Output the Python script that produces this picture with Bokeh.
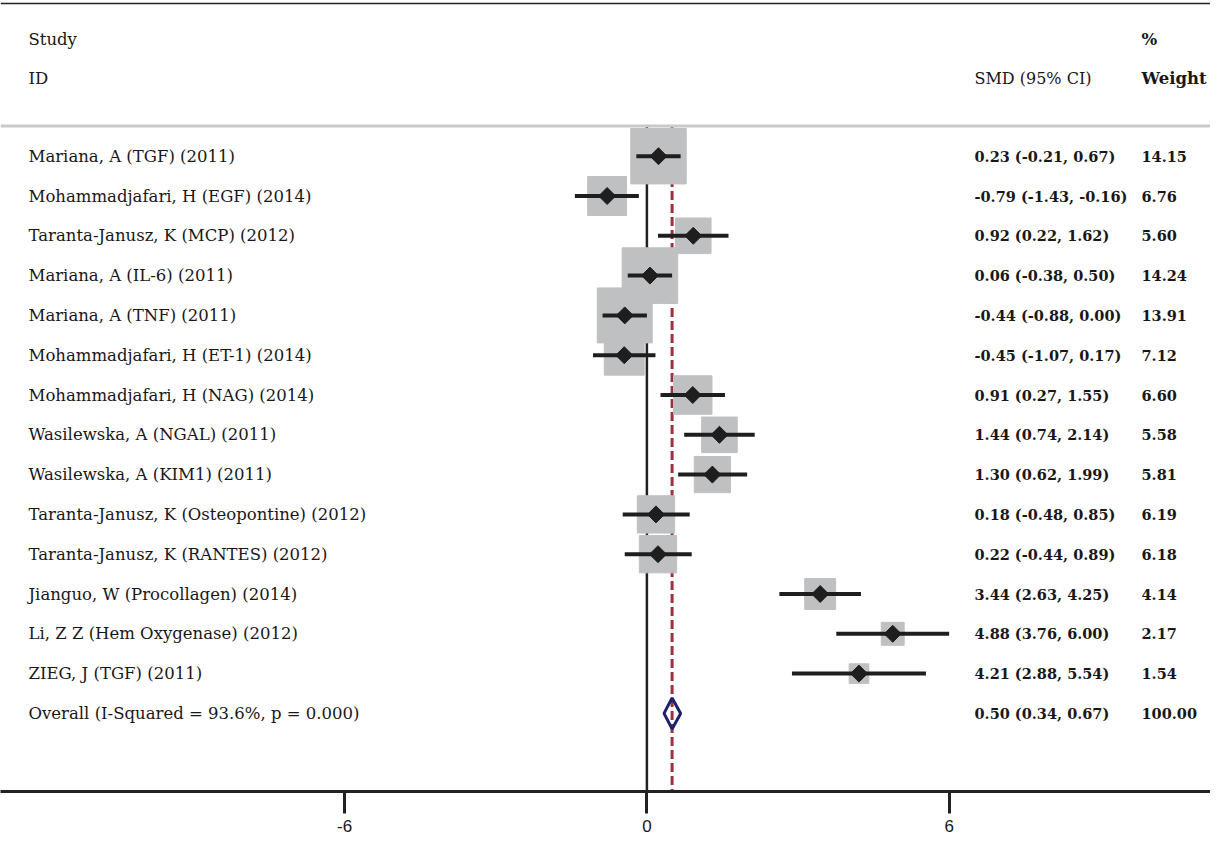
import math
from bokeh.plotting import figure
from bokeh.models import Range1d, Span, FixedTicker, ColumnDataSource
from bokeh.core.properties import value
from bokeh.embed import file_html
from bokeh.resources import INLINE

# ---------------- data ----------------
studies = [
    "Mariana, A (TGF) (2011)",
    "Mohammadjafari,  H (EGF) (2014)",
    "Taranta-Janusz, K (MCP) (2012)",
    "Mariana, A (IL-6) (2011)",
    "Mariana, A (TNF) (2011)",
    "Mohammadjafari,  H (ET-1) (2014)",
    "Mohammadjafari,  H (NAG) (2014)",
    "Wasilewska, A (NGAL) (2011)",
    "Wasilewska, A (KIM1) (2011)",
    "Taranta-Janusz, K (Osteopontine) (2012)",
    "Taranta-Janusz, K (RANTES) (2012)",
    "Jianguo, W (Procollagen) (2014)",
    "Li, Z Z (Hem Oxygenase) (2012)",
    "ZIEG, J (TGF) (2011)",
]
smd = [0.23, -0.79, 0.92, 0.06, -0.44, -0.45, 0.91, 1.44, 1.30, 0.18, 0.22, 3.44, 4.88, 4.21]
ci_low = [-0.21, -1.43, 0.22, -0.38, -0.88, -1.07, 0.27, 0.74, 0.62, -0.48, -0.44, 2.63, 3.76, 2.88]
ci_high = [0.67, -0.16, 1.62, 0.50, 0.00, 0.17, 1.55, 2.14, 1.99, 0.85, 0.89, 4.25, 6.00, 5.54]
weights = [14.15, 6.76, 5.60, 14.24, 13.91, 7.12, 6.60, 5.58, 5.81, 6.19, 6.18, 4.14, 2.17, 1.54]

overall_label = "Overall  (I-Squared = 93.6%, p = 0.000)"
overall_smd = 0.50
overall_low = 0.34
overall_high = 0.67
overall_weight = 100.00

x_ticks = [-6, 0, 6]
x_tick_labels = {-6: "-6", 0: "0", 6: "6"}

header_left = ["Study", "ID"]
header_smd = "SMD (95% CI)"
header_weight = ["%", "Weight"]

# ---------------- layout ----------------
W, H = 1210, 839
BOTTOM = 48
FH = H - BOTTOM
X0, X1 = -12.833, 11.189
ROW0, ROWSTEP = 155.7, 39.8
Y_TOP = -ROW0 / ROWSTEP
Y_BOT = (FH - ROW0) / ROWSTEP


def px_x(ref_px):
    return X0 + (ref_px - 8) / W * (X1 - X0)


def px_y(ref_py):
    return Y_TOP + (ref_py - 8) / FH * (Y_BOT - Y_TOP)


TEXT_COLOR = "#1a1718"
SERIF = value("DejaVu Serif")

p = figure(width=W, height=H, output_backend="svg", toolbar_location=None,
           x_range=Range1d(X0, X1), y_range=Range1d(Y_BOT, Y_TOP),
           y_axis_location=None,
           min_border_left=0, min_border_right=0, min_border_top=0,
           min_border_bottom=BOTTOM)
p.grid.visible = False
p.outline_line_color = None
p.background_fill_color = "white"
p.border_fill_color = "white"

ax = p.xaxis[0]
ax.ticker = FixedTicker(ticks=x_ticks)
ax.major_label_overrides = x_tick_labels
ax.axis_line_width = 3
ax.axis_line_color = "#222222"
ax.major_tick_line_width = 3
ax.major_tick_line_color = "#222222"
ax.major_tick_out = 22
ax.major_tick_in = 0
ax.minor_tick_out = 0
ax.minor_tick_in = 0
ax.major_label_standoff = 6
ax.major_label_text_font = "Liberation Sans"
ax.major_label_text_font_size = "17px"
ax.major_label_text_color = TEXT_COLOR

rows = list(range(len(studies)))
overall_row = len(studies)

# horizontal rules
p.add_layout(Span(location=px_y(11), dimension="width", line_color="#222222", line_width=1.5))
p.add_layout(Span(location=px_y(133.5), dimension="width", line_color="#c9c9c9", line_width=3))

# vertical null line and overall dashed line
y_rule = px_y(133.5)
p.segment(x0=[0], y0=[y_rule], x1=[0], y1=[Y_BOT + 1], line_color="#222222", line_width=2.5)
p.segment(x0=[overall_smd], y0=[y_rule], x1=[overall_smd], y1=[Y_BOT + 1],
          line_color="#9e2f3c", line_width=3, line_dash="9 4")

# weight squares
src = ColumnDataSource(dict(
    y=rows, es=smd, lo=ci_low, hi=ci_high, w=weights,
    size=[14.2 * math.sqrt(w) + 2 for w in weights],
))
p.scatter(x="es", y="y", size="size", marker="square", source=src,
          fill_color="#bfc0c2", line_color="#bfc0c2", line_width=1)
# confidence intervals
p.segment(x0="lo", y0="y", x1="hi", y1="y", source=src, line_color="#1e1e1e", line_width=4)
# point estimates
p.scatter(x="es", y="y", size=12, marker="square", angle=math.pi / 4, source=src,
          fill_color="#1e1e1e", line_color="#1e1e1e")

# overall diamond
h = 15.5 / ROWSTEP
p.patch(x=[overall_low, overall_smd, overall_high, overall_smd],
        y=[overall_row, overall_row - h, overall_row, overall_row + h],
        fill_alpha=0, line_color="#1f1f6e", line_width=3)

# left labels
p.text(x=[px_x(36)] * (len(studies) + 1), y=rows + [overall_row],
       text=studies + [overall_label], text_font=SERIF,
       text_font_size=value("16.5px"), text_color=TEXT_COLOR,
       text_baseline="middle", text_align="left")

# right columns
smd_text = [f"{e:.2f} ({l:.2f}, {u:.2f})" for e, l, u in zip(smd, ci_low, ci_high)]
smd_text.append(f"{overall_smd:.2f} ({overall_low:.2f}, {overall_high:.2f})")
w_text = [f"{w:.2f}" for w in weights] + [f"{overall_weight:.2f}"]
p.text(x=[px_x(982)] * len(smd_text), y=rows + [overall_row], text=smd_text,
       text_font=SERIF, text_font_size=value("14.5px"), text_font_style="bold",
       text_color=TEXT_COLOR, text_baseline="middle", text_align="left")
p.text(x=[px_x(1149)] * len(w_text), y=rows + [overall_row], text=w_text,
       text_font=SERIF, text_font_size=value("14.5px"), text_font_style="bold",
       text_color=TEXT_COLOR, text_baseline="middle", text_align="left")

# headers
p.text(x=[px_x(36)] * 2, y=[px_y(47), px_y(86)], text=header_left,
       text_font=SERIF, text_font_size=value("16.5px"), text_color=TEXT_COLOR,
       text_baseline="middle", text_align="left")
p.text(x=[px_x(982)], y=[px_y(86)], text=[header_smd],
       text_font=SERIF, text_font_size=value("16px"),
       text_color=TEXT_COLOR, text_baseline="middle", text_align="left")
p.text(x=[px_x(1149)] * 2, y=[px_y(47), px_y(86)], text=header_weight,
       text_font=SERIF, text_font_size=value("16.5px"), text_font_style="bold",
       text_color=TEXT_COLOR, text_baseline="middle", text_align="left")

open("out.html", "w").write(file_html(p, INLINE))
